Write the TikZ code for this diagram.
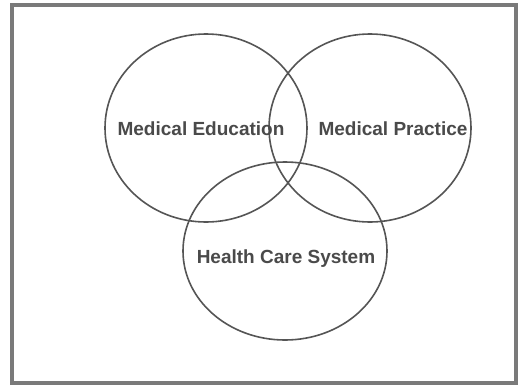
\documentclass[tikz,border=0pt]{standalone}
\usepackage{fontspec}
\setmainfont{Liberation Sans}
\usepackage{xcolor}
\usepackage{tikz}
\usetikzlibrary{calc}

\definecolor{ringgray}{HTML}{555555}
\definecolor{framegray}{HTML}{7A7A7A}
\definecolor{labelgray}{HTML}{4A4A4A}

\tikzset{
	ring/.style={draw=ringgray, line width=1.6pt},
	field/.style={font=\fontsize{19}{21}\selectfont\bfseries, text=labelgray, inner sep=0pt}
}

\begin{document}
\begin{tikzpicture}[x=1pt,y=-1pt]
		\useasboundingbox (0,0) rectangle (522,391);
		\fill[white] (0,0) rectangle (522,391);
		
		\coordinate (E) at (206,128);
		\coordinate (P) at (370,128);
		\coordinate (H) at (285,251);
		
		\coordinate (NW) at (12,5);
		\coordinate (SE) at (516,383);
		
		\draw[framegray, line width=3.5pt] (NW) rectangle (SE);
		
		\draw[ring] (E) ellipse [x radius=101pt, y radius=94pt];
		\draw[ring] (P) ellipse [x radius=101pt, y radius=94pt];
		\draw[ring] (H) ellipse [x radius=102pt, y radius=89pt];
		
		\node[field] (edu) at (201,129) {Medical Education};
		\node[field] (prac) at (393,129) {Medical Practice};
		\node[field] (care) at (286,259) {Health Care System};
	\end{tikzpicture}
\end{document}
